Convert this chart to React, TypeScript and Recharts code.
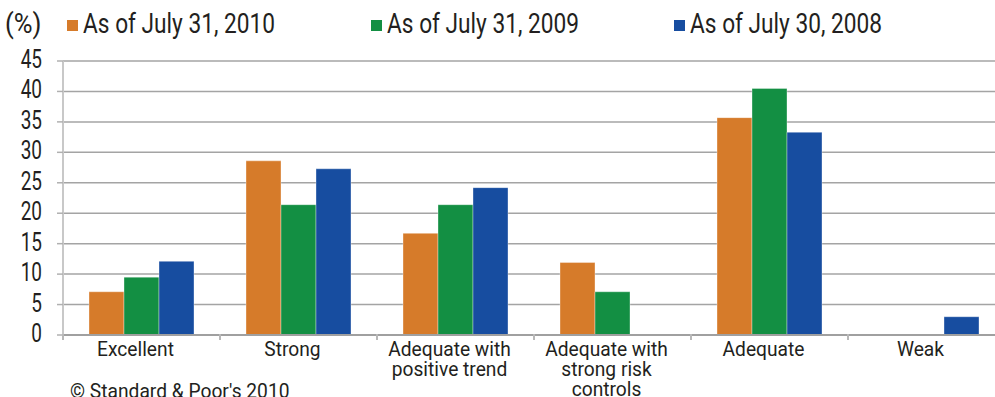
import React from 'react';
import { BarChart, Bar, XAxis, YAxis, CartesianGrid } from 'recharts';

const categories = [
  'Excellent',
  'Strong',
  'Adequate with\npositive trend',
  'Adequate with\nstrong risk\ncontrols',
  'Adequate',
  'Weak',
];

const asOf2010 = [7.1, 28.6, 16.7, 11.9, 35.7, 0];
const asOf2009 = [9.5, 21.4, 21.4, 7.1, 40.5, 0];
const asOf2008 = [12.1, 27.3, 24.2, 0, 33.3, 3.0];

const yTicks = [0, 5, 10, 15, 20, 25, 30, 35, 40, 45];

const series = [
  { key: 'y2010', name: 'As of July 31, 2010', color: '#d67b2a' },
  { key: 'y2009', name: 'As of July 31, 2009', color: '#138f43' },
  { key: 'y2008', name: 'As of July 30, 2008', color: '#174da0' },
];

const data = categories.map((name, i) => ({
  name,
  y2010: asOf2010[i],
  y2009: asOf2009[i],
  y2008: asOf2008[i],
}));

// condensed look: Roboto squeezed horizontally
const FONT = 'Roboto, "Liberation Sans", sans-serif';
const TEXT = '#231f20';
const legendLeft = [67, 371, 674];

function ValueTick(props: any) {
  const { x, y, payload } = props;
  return (
    <text
      transform={`translate(${x},${y}) scale(0.76,1)`}
      dy={7}
      textAnchor="end"
      fontFamily={FONT}
      fontSize={25}
      fill={TEXT}
    >
      {payload.value}
    </text>
  );
}

function CategoryTick(props: any) {
  const { x, y, payload } = props;
  const lines = String(payload.value).split('\n');
  const half = payload.offset ?? 0;
  return (
    <g>
      <line x1={x - half} x2={x - half} y1={y - 7} y2={y - 1} stroke="#b8b8b8" strokeWidth={2} />
      <text
        transform={`translate(${x - 6},${y}) scale(0.96,1)`}
        textAnchor="middle"
        fontFamily={FONT}
        fontSize={20}
        fill={TEXT}
      >
        {lines.map((line, i) => (
          <tspan key={i} x={0} dy={i === 0 ? 15 : 20}>
            {line}
          </tspan>
        ))}
      </text>
    </g>
  );
}

export default function App() {
  return (
    <div
      style={{
        position: 'fixed',
        left: 0,
        top: 0,
        width: 995,
        height: 397,
        overflow: 'hidden',
        background: '#fff',
      }}
    >
      <BarChart
        width={1010}
        height={397}
        data={data}
        margin={{ top: 61, right: 5, left: 0, bottom: 0 }}
        barCategoryGap={26}
        barGap={0}
      >
        <CartesianGrid vertical={false} stroke="#a4a4a4" strokeWidth={1.5} />
        <XAxis
          dataKey="name"
          height={62}
          interval={0}
          axisLine={{ stroke: '#a0a0a0', strokeWidth: 2 }}
          tickLine={false}
          tick={<CategoryTick />}
          tickMargin={0}
        />
        <YAxis
          width={63}
          domain={[0, 45]}
          ticks={yTicks}
          interval={0}
          axisLine={{ stroke: '#c8c8c8', strokeWidth: 2 }}
          tickLine={{ stroke: '#b0b0b0', strokeWidth: 1.5 }}
          tickSize={6}
          tickMargin={15}
          tick={<ValueTick />}
        />
        {series.map((s) => (
          <Bar
            key={s.key}
            dataKey={s.key}
            name={s.name}
            fill={s.color}
            stroke="rgba(255,255,255,0.35)"
            strokeWidth={1}
            isAnimationActive={false}
          />
        ))}
      </BarChart>

      <div
        style={{
          position: 'absolute',
          left: 5,
          top: 9,
          fontFamily: FONT,
          fontSize: 27,
          color: TEXT,
          lineHeight: '30px',
          transform: 'scaleX(0.95)',
          transformOrigin: 'left',
        }}
      >
        (%)
      </div>
      {series.map((s, i) => (
        <div
          key={s.key}
          style={{ position: 'absolute', left: legendLeft[i], top: 9, height: 30, display: 'flex', alignItems: 'center' }}
        >
          <span style={{ display: 'inline-block', width: 11, height: 11, background: s.color, marginTop: 3 }} />
          <span
            style={{
              marginLeft: 5,
              fontFamily: FONT,
              fontSize: 27,
              lineHeight: '30px',
              color: TEXT,
              whiteSpace: 'nowrap',
              transform: 'scaleX(0.84)',
              transformOrigin: 'left',
            }}
          >
            {s.name}
          </span>
        </div>
      ))}
      <div
        style={{
          position: 'absolute',
          left: 70,
          top: 379,
          fontFamily: FONT,
          fontSize: 20,
          color: TEXT,
          whiteSpace: 'nowrap',
          transform: 'scaleX(0.96)',
          transformOrigin: 'left',
        }}
      >
        © Standard &amp; Poor's 2010
      </div>
    </div>
  );
}
